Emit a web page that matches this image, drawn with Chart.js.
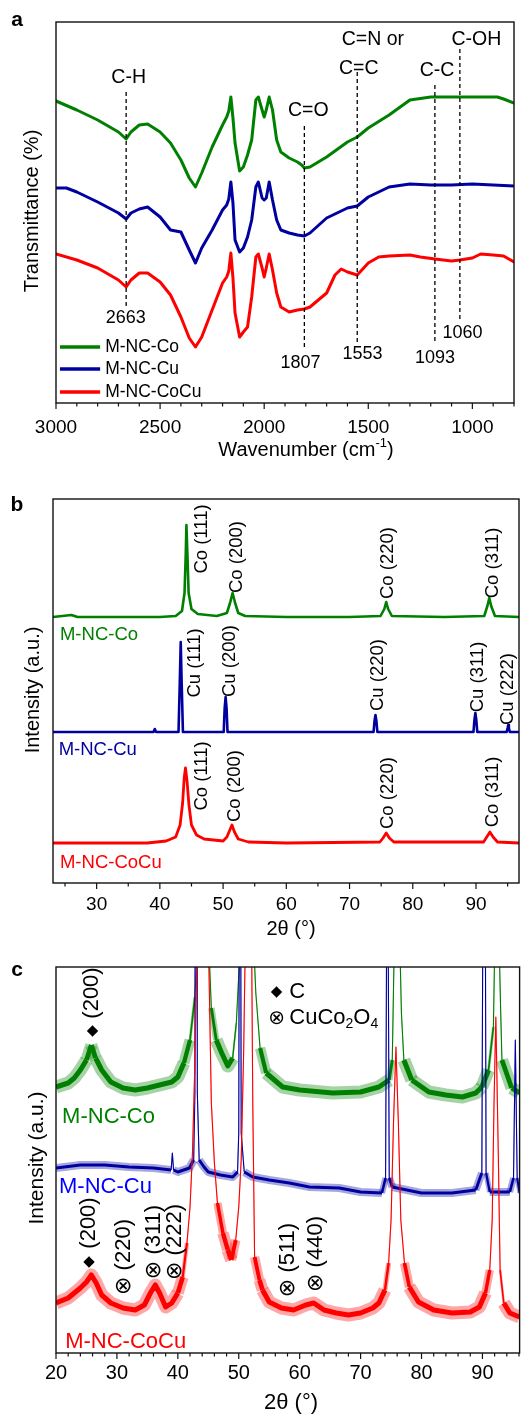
<!DOCTYPE html>
<html>
<head>
<meta charset="utf-8">
<script src="https://cdn.jsdelivr.net/npm/chart.js@4.4.1/dist/chart.umd.min.js"></script>
<style>
  html, body { margin: 0; padding: 0; background: #fff; }
  .panel { position: absolute; left: 0; width: 527px; }
</style>
</head>
<body>
<div class="panel" style="top:0"><canvas id="chartA" width="527" height="465"></canvas></div>
<div class="panel" style="top:465px"><canvas id="chartB" width="527" height="480"></canvas></div>
<div class="panel" style="top:945px"><canvas id="chartC" width="527" height="473"></canvas></div>
<script>
// ---- panel a: FTIR, [wavenumber, transmittance (a.u.)]
const ftirCo = [[3000,302],[2900,293],[2800,283],[2700,271],[2663,264],[2640,271],[2600,278],[2560,279],[2500,271],[2450,260],[2400,243],[2360,225],[2330,216],[2300,230],[2250,256],[2200,278],[2180,286],[2170,292],[2160,306],[2150,285],[2140,260],[2118,232],[2100,236],[2080,248],[2060,263],[2040,303],[2028,306],[2010,293],[2000,286],[1990,293],[1976,306],[1960,293],[1940,263],[1920,251],[1880,245],[1840,241],[1820,238],[1807,235],[1780,236],[1700,246],[1600,261],[1553,266],[1500,275],[1400,288],[1300,303],[1200,306],[1000,306],[880,306],[850,304],[800,300]];
const ftirCu = [[3000,215],[2950,215],[2900,211],[2800,201],[2700,190],[2663,184],[2640,190],[2600,194],[2560,196],[2500,186],[2450,173],[2400,171],[2360,153],[2330,140],[2300,155],[2250,173],[2200,193],[2180,198],[2170,204],[2160,221],[2150,200],[2140,163],[2118,151],[2100,155],[2080,166],[2060,183],[2040,216],[2028,221],[2010,205],[2000,203],[1990,205],[1976,221],[1960,203],[1940,183],[1920,173],[1880,170],[1840,168],[1807,167],[1780,170],[1700,185],[1600,195],[1553,197],[1500,206],[1400,216],[1300,219],[1200,218],[1100,218],[1000,219],[900,218],[800,217]];
const ftirCoCu = [[3000,149],[2900,143],[2800,135],[2700,123],[2663,116],[2640,123],[2600,130],[2560,130],[2500,121],[2450,108],[2400,86],[2360,65],[2330,56],[2300,66],[2250,93],[2200,120],[2180,126],[2170,132],[2160,150],[2150,125],[2140,90],[2118,66],[2100,71],[2080,76],[2060,106],[2040,146],[2028,149],[2010,135],[2000,126],[1990,135],[1976,149],[1960,133],[1940,110],[1920,96],[1880,91],[1840,93],[1807,94],[1780,96],[1700,110],[1660,128],[1630,134],[1600,131],[1553,128],[1500,140],[1450,146],[1400,147],[1300,148],[1250,146],[1180,144],[1100,142],[1060,143],[1000,145],[960,149],[900,148],[850,147],[800,141]];
const bandPos = [2663, 1807, 1553, 1180, 1060];
const bandNum = ['2663', '1807', '1553', '1093', '1060'];
const bandName = ['C-H', 'C=O', 'C=N or|C=C', 'C-C', 'C-OH'];

// ---- panel b: XRD, [2theta, intensity (a.u.)]
const xrdCo = [[23.1,266],[26,268],[27,266],[35,266],[40,266],[42.5,267],[43.5,272],[43.9,290],[44.1,330],[44.2,358],[44.35,330],[44.55,290],[45,274],[46,269],[49,267],[50.6,270],[51.1,280],[51.5,290],[51.9,280],[52.4,270],[53.5,267],[60,266],[70,266],[74.9,267],[75.5,274],[75.8,281],[76.1,274],[76.7,267],[85,266],[91.3,267],[91.8,277],[92.1,285],[92.4,277],[93,267],[96.8,266]];
const xrdCu = [[23.1,151],[30,151],[39,151],[39.2,154],[39.4,151],[42.95,151],[43.15,200],[43.3,241],[43.45,200],[43.65,151],[50.1,151],[50.25,175],[50.4,186],[50.55,175],[50.7,151],[73.8,151],[73.95,162],[74.1,168],[74.25,162],[74.4,151],[89.6,151],[89.75,163],[89.9,170],[90.05,163],[90.2,151],[94.85,151],[95.0,155],[95.1,158],[95.2,155],[95.35,151],[96.8,151]];
const xrdCoCu = [[23.1,40],[30,40],[38,40],[41,42],[42.5,46],[43.2,58],[43.6,80],[43.85,105],[44.05,115],[44.3,102],[44.6,78],[45.0,58],[45.8,48],[47,44],[50,42],[50.6,46],[51.0,52],[51.4,58],[51.8,51],[52.4,44],[54,41],[60,40],[74.8,41],[75.3,45],[75.8,50],[76.3,45],[77,41],[91.2,41],[91.7,46],[92.2,51],[92.7,46],[93.4,41],[96.8,40]];
const peaksCo = ['Co (111)', 'Co (200)', 'Co (220)', 'Co (311)'];
const peaksCu = ['Cu (111)', 'Cu (200)', 'Cu (220)', 'Cu (311)', 'Cu (222)'];

// ---- panel c: zoomed XRD, [2theta, intensity (a.u.)]
const zoomCo = [[20,266],[21,268],[22,270],[23,275],[24,283],[25,293],[25.8,308],[26.5,295],[27.5,283],[29,271],[31,265],[33,263],[35,265],[37,268],[39,271],[40,276],[41,290],[42,313],[42.8,356],[43.3,420],[44.2,1400],[45.0,420],[45.5,345],[46.3,313],[47.2,300],[48.2,287],[49.0,295],[49.6,330],[50.1,390],[50.6,460],[51.5,800],[52.3,430],[52.8,360],[53.5,305],[54.5,280],[57.2,266],[60,263],[65.4,260],[70,261],[73,266],[74.7,273],[75.2,293],[75.5,400],[75.9,700],[76.4,420],[76.7,340],[77.1,293],[78.4,273],[81.2,261],[84,258],[86.7,256],[88.9,260],[89.9,266],[91.0,283],[91.8,326],[92.0,400],[92.3,650],[92.7,420],[93.0,340],[93.2,293],[94.8,265],[96.1,260]];
const zoomCu = [[20,185],[24,188],[28,188],[32,186],[36,185],[38.9,183],[39.1,200],[39.3,183],[40,181],[41.9,185],[42.6,193],[42.8,260],[43.0,1400],[43.2,260],[43.5,193],[44.3,186],[45,181],[47,178],[49,176],[49.8,181],[50.0,220],[50.2,800],[50.4,220],[50.9,181],[52.3,176],[55,173],[58.3,170],[61.6,166],[66.5,165],[70,161],[73.5,160],[74.1,175],[74.4,600],[74.7,175],[75.2,166],[80,160],[85,160],[88.9,163],[89.9,180],[90.3,800],[90.6,180],[91.2,161],[94.5,161],[95.1,175],[95.4,313],[95.7,175],[96.1,160]];
const zoomCoCu = [[20,50],[22,55],[24,65],[25,71],[25.8,78],[26.6,70],[27.5,58],[29,50],[31,45],[33,43],[34.5,48],[35.5,60],[36.3,68],[37,60],[38,46],[39,50],[40,60],[40.8,76],[41.5,110],[42,146],[42.4,200],[42.8,290],[43.2,420],[44.1,1500],[45.0,420],[45.5,250],[46.0,190],[46.5,150],[47.4,120],[48.2,103],[48.8,93],[49.5,113],[50,146],[50.4,193],[50.8,300],[51.1,420],[51.6,1000],[52.1,420],[52.3,250],[52.6,96],[53.4,73],[53.9,63],[55,51],[57,45],[59,43],[61,48],[62.3,50],[64,43],[66,40],[68,38],[70,40],[72,45],[73,50],[74,63],[74.6,90],[75.0,133],[75.4,230],[75.8,306],[76.2,230],[76.6,133],[77.2,90],[78,66],[79.5,51],[82,43],[85,40],[88,41],[89.5,46],[90.5,60],[91.2,83],[91.6,133],[91.9,250],[92.2,336],[92.6,200],[92.9,83],[93.5,50],[94.5,40],[96.1,36]];
const phaseCuCo2O4 = ['(220)', '(311)', '(222)', '(511)', '(440)'];

const sampleNames = ['M-NC-Co', 'M-NC-Cu', 'M-NC-CoCu'];

const FONT = "'Liberation Sans', Arial, 'DejaVu Sans', sans-serif";
const GREEN = '#008000', BLUE = '#0000a0', RED = '#ff0000';

const toXY = arr => arr.map(p => ({ x: p[0], y: p[1] }));
const isMajor = (v, m) => Math.abs(v / m - Math.round(v / m)) < 1e-6;

function txt(ctx, s, x, y, size, color, align, weight) {
  ctx.font = (weight || 'normal') + ' ' + size + 'px ' + FONT;
  ctx.fillStyle = color || '#000';
  ctx.textAlign = align || 'center';
  ctx.textBaseline = 'middle';
  ctx.fillText(s, x, y);
}
function vtxt(ctx, s, x, y, size, color) {
  ctx.save();
  ctx.translate(x, y);
  ctx.rotate(-Math.PI / 2);
  txt(ctx, s, 0, 0, size, color);
  ctx.restore();
}
// parts: [text, size, dy]
function rich(ctx, parts, x, y, align) {
  let w = 0;
  parts.forEach(p => { ctx.font = p[1] + 'px ' + FONT; w += ctx.measureText(p[0]).width; });
  let cx = align === 'left' ? x : x - w / 2;
  parts.forEach(p => {
    ctx.font = p[1] + 'px ' + FONT;
    ctx.fillStyle = '#000'; ctx.textAlign = 'left'; ctx.textBaseline = 'middle';
    ctx.fillText(p[0], cx, y + p[2]);
    cx += ctx.measureText(p[0]).width;
  });
}

function frameAndTicks(chart, major) {
  const { ctx, chartArea: a, scales: { x } } = chart;
  ctx.save();
  ctx.strokeStyle = '#111';
  ctx.lineWidth = 1.4;
  ctx.strokeRect(a.left, a.top, a.right - a.left, a.bottom - a.top);
  ctx.lineWidth = 1.2;
  x.ticks.forEach(t => {
    const px = x.getPixelForValue(t.value);
    ctx.beginPath();
    ctx.moveTo(px, a.bottom);
    ctx.lineTo(px, a.bottom + (isMajor(t.value, major) ? 6 : 3.5));
    ctx.stroke();
  });
  ctx.restore();
}

// wide stroke where the trace is flat (noise band), thin on steep peak flanks
function bandWidth(w) {
  return c => {
    const dx = Math.abs(c.p1.x - c.p0.x) || 0.1;
    const s = Math.abs(c.p1.y - c.p0.y) / dx;
    if (s <= 2.5) return w;
    if (s >= 10) return 1.1;
    return w - (w - 1.1) * (s - 2.5) / 7.5;
  };
}
// a noisy XRD trace = translucent halo + solid core
function noisyTrace(label, data, color, halo, haloW, coreW) {
  return [
    { label, data: toXY(data), borderColor: halo, borderWidth: haloW, clip: 0, borderCapStyle: 'butt',
      segment: { borderWidth: bandWidth(haloW) } },
    { label, data: toXY(data), borderColor: color, borderWidth: coreW, clip: 0, borderCapStyle: 'butt',
      segment: { borderWidth: bandWidth(coreW) } }
  ];
}

function baseOptions(o) {
  return {
    responsive: false,
    animation: false,
    events: [],
    layout: { padding: o.pad },
    plugins: { legend: { display: false }, tooltip: { enabled: false } },
    elements: { point: { radius: 0 }, line: { tension: 0, borderJoinStyle: 'round', borderCapStyle: 'round' } },
    scales: {
      x: {
        type: 'linear', min: o.min, max: o.max, reverse: !!o.reverse,
        afterFit: s => { s.height = o.axisH; },
        border: { display: false },
        grid: { display: false, drawTicks: false },
        ticks: {
          stepSize: o.step, includeBounds: false, autoSkip: false, maxRotation: 0, minRotation: 0,
          padding: o.tickPad, color: '#000', font: { family: FONT, size: o.tickSize },
          callback: v => isMajor(v, o.major) ? String(v) : ''
        }
      },
      y: { display: false, min: 0, max: o.ymax }
    }
  };
}

// ---------------- panel a ----------------
new Chart(document.getElementById('chartA'), {
  type: 'line',
  data: {
    datasets: [
      { label: sampleNames[0], data: toXY(ftirCo), borderColor: GREEN, borderWidth: 3 },
      { label: sampleNames[1], data: toXY(ftirCu), borderColor: BLUE, borderWidth: 3 },
      { label: sampleNames[2], data: toXY(ftirCoCu), borderColor: RED, borderWidth: 3 }
    ]
  },
  options: baseOptions({ pad: { left: 56, top: 22, right: 5, bottom: 0 }, axisH: 62, min: 800, max: 3000,
    reverse: true, step: 100, major: 500, tickPad: 13, tickSize: 19, ymax: 381 }),
  plugins: [{
    id: 'ftirDecor',
    afterDraw(chart) {
      const { ctx, scales: { x, y } } = chart;
      frameAndTicks(chart, 500);
      const lineTop = [311, 277, 331, 318, 354];
      const lineBottom = [96, 53, 61, 60, 84];
      ctx.save();
      ctx.setLineDash([4, 3]);
      ctx.lineWidth = 1.3;
      ctx.strokeStyle = '#000';
      bandPos.forEach((b, i) => {
        const px = x.getPixelForValue(b);
        ctx.beginPath();
        ctx.moveTo(px, y.getPixelForValue(lineTop[i]));
        ctx.lineTo(px, y.getPixelForValue(lineBottom[i]));
        ctx.stroke();
      });
      ctx.restore();
      const nameAt = [[2651, 325], [1788, 292], [1478, 363], [1170, 332], [981, 363]];
      const numAt = [[2665, 85], [1825, 40], [1528, 49], [1179, 45], [1047, 70]];
      bandName.forEach((n, i) => {
        const parts = n.split('|');
        if (parts.length === 2) {
          txt(ctx, parts[0], x.getPixelForValue(nameAt[i][0]), y.getPixelForValue(nameAt[i][1]), 19.5);
          txt(ctx, parts[1], x.getPixelForValue(1546), y.getPixelForValue(334), 19.5);
        } else {
          txt(ctx, n, x.getPixelForValue(nameAt[i][0]), y.getPixelForValue(nameAt[i][1]), 19.5);
        }
        txt(ctx, bandNum[i], x.getPixelForValue(numAt[i][0]), y.getPixelForValue(numAt[i][1]), 18);
      });
      // legend
      const cols = [GREEN, BLUE, RED], rows = [56, 34, 11];
      ctx.save();
      ctx.lineWidth = 3.4;
      sampleNames.forEach((n, i) => {
        const py = y.getPixelForValue(rows[i]);
        ctx.strokeStyle = cols[i];
        ctx.beginPath();
        ctx.moveTo(x.getPixelForValue(2981), py);
        ctx.lineTo(x.getPixelForValue(2788), py);
        ctx.stroke();
        txt(ctx, n, x.getPixelForValue(2764), py, 17.5, '#000', 'left');
      });
      ctx.restore();
      rich(ctx, [['Wavenumber (cm', 20, 0], ['-1', 13, -7], [')', 20, 0]], 306, 450);
      vtxt(ctx, 'Transmittance (%)', 32, 211, 20, '#000');
      txt(ctx, 'a', 17, 20, 21, '#000', 'center', 'bold');
    }
  }]
});

// ---------------- panel b ----------------
new Chart(document.getElementById('chartB'), {
  type: 'line',
  data: {
    datasets: [
      { label: sampleNames[0], data: toXY(xrdCo), borderColor: GREEN, borderWidth: 2.6 },
      { label: sampleNames[1], data: toXY(xrdCu), borderColor: BLUE, borderWidth: 2.6 },
      { label: sampleNames[2], data: toXY(xrdCoCu), borderColor: RED, borderWidth: 2.8 }
    ]
  },
  options: baseOptions({ pad: { left: 53, top: 34, right: 8, bottom: 0 }, axisH: 62, min: 23.1, max: 96.8,
    step: 5, major: 10, tickPad: 10, tickSize: 19, ymax: 384 }),
  plugins: [{
    id: 'xrdDecor',
    afterDraw(chart) {
      const { ctx, scales: { x, y } } = chart;
      frameAndTicks(chart, 10);
      const coTop = [[46.7, 344], [52.2, 326], [76.1, 320], [92.7, 320]];
      const cuAt = [[45.6, 220], [51.1, 222], [74.5, 208], [90.3, 206], [95.1, 194]];
      const coBot = [[46.7, 107], [51.9, 97], [76.1, 90], [92.7, 91]];
      peaksCo.forEach((p, i) => {
        vtxt(ctx, p, x.getPixelForValue(coTop[i][0]), y.getPixelForValue(coTop[i][1]), 18.5, '#000');
        vtxt(ctx, p, x.getPixelForValue(coBot[i][0]), y.getPixelForValue(coBot[i][1]), 18.5, '#000');
      });
      peaksCu.forEach((p, i) => {
        vtxt(ctx, p, x.getPixelForValue(cuAt[i][0]), y.getPixelForValue(cuAt[i][1]), 18.5, '#000');
      });
      const cols = [GREEN, BLUE, RED], at = [[24.2, 248], [24.0, 133], [24.2, 20]];
      sampleNames.forEach((n, i) => {
        txt(ctx, n, x.getPixelForValue(at[i][0]), y.getPixelForValue(at[i][1]), 18.5, cols[i], 'left');
      });
      txt(ctx, '2θ (°)', 291, 464, 20);
      vtxt(ctx, 'Intensity (a.u.)', 33, 225, 20, '#000');
      txt(ctx, 'b', 17, 40, 21, '#000', 'center', 'bold');
    }
  }]
});

// ---------------- panel c ----------------
new Chart(document.getElementById('chartC'), {
  type: 'line',
  data: {
    datasets: [
      ...noisyTrace(sampleNames[2], zoomCoCu, RED, 'rgba(255,0,0,0.35)', 13, 5),
      ...noisyTrace(sampleNames[1], zoomCu, BLUE, 'rgba(0,0,160,0.35)', 8, 3),
      ...noisyTrace(sampleNames[0], zoomCo, GREEN, 'rgba(0,128,0,0.35)', 13, 5)
    ]
  },
  options: baseOptions({ pad: { left: 56, top: 22, right: 5, bottom: 0 }, axisH: 65, min: 20, max: 96.1,
    step: 2, major: 10, tickPad: 8, tickSize: 20, ymax: 386 }),
  plugins: [{
    id: 'zoomDecor',
    afterDraw(chart) {
      const { ctx, scales: { x, y } } = chart;
      frameAndTicks(chart, 10);
      const X = v => x.getPixelForValue(v), Y = v => y.getPixelForValue(v);
      // carbon (200)
      txt(ctx, '◆', X(26.0), Y(322), 15);
      vtxt(ctx, '(200)', X(25.9), Y(360), 22, '#000');
      txt(ctx, '◆', X(25.4), Y(91), 15);
      vtxt(ctx, '(200)', X(25.4), Y(130), 22, '#000');
      // CuCo2O4 reflections
      const oxAt = [[31.1, 96], [36.0, 111], [39.6, 111], [58.1, 93], [62.7, 99]];
      phaseCuCo2O4.forEach((p, i) => {
        vtxt(ctx, '⊗ ' + p, X(oxAt[i][0]), Y(oxAt[i][1]), 22, '#000');
      });
      // phase key
      txt(ctx, '◆', X(56.2), Y(361), 15);
      txt(ctx, 'C', X(58.3), Y(361), 22, '#000', 'left');
      txt(ctx, '⊗', X(56.2), Y(335), 20);
      rich(ctx, [['CuCo', 22, 0], ['2', 14, 6], ['O', 22, 0], ['4', 14, 6]], X(58.3), Y(335), 'left');
      const cols = [GREEN, '#0000ff', RED], at = [[21.0, 236], [20.5, 166], [21.5, 11]];
      sampleNames.forEach((n, i) => {
        txt(ctx, n, X(at[i][0]), Y(at[i][1]), 22, cols[i], 'left');
      });
      txt(ctx, '2θ (°)', 291, 458, 22);
      vtxt(ctx, 'Intensity (a.u.)', 37, 213, 21, '#000');
      txt(ctx, 'c', 17, 25, 21, '#000', 'center', 'bold');
    }
  }]
});
</script>
</body>
</html>
